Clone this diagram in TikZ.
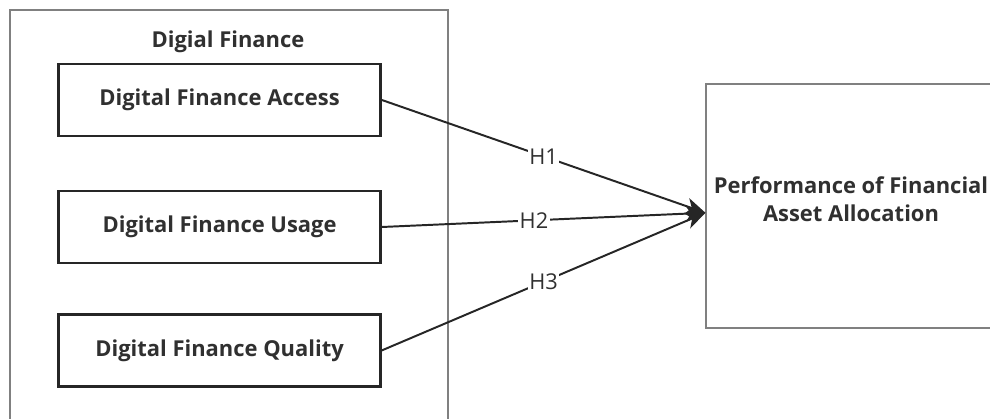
\documentclass[tikz,border=0pt]{standalone}
\usepackage{fontspec}
\setmainfont{Open Sans}
\usetikzlibrary{arrows.meta,calc}
\definecolor{boxline}{HTML}{262626}
\definecolor{frameline}{HTML}{808080}
\definecolor{txt}{HTML}{303030}

\begin{document}
\begin{tikzpicture}[
    frame/.style={draw=frameline, line width=0.8pt},
    varbox/.style={draw=boxline, line width=1.8pt, minimum width=8.05cm, minimum height=1.8cm, align=center, font=\fontsize{15.6}{18}\selectfont\bfseries, text=txt},
    arrow/.style={-{Stealth[length=5mm, width=4.2mm, inset=1.4mm]}, line width=1.4pt, draw=boxline},
    hyp/.style={midway, fill=white, inner sep=1pt, font=\fontsize{15.5}{17}\selectfont, text=txt},
]
\clip (0,0) rectangle (24.75,10.45);

% Digital finance group
\node[frame, minimum width=10.95cm, minimum height=10.9cm] (group) at (5.725, 4.75) {};
\node[font=\fontsize{15.6}{18}\selectfont\bfseries, text=txt] (title) at (5.7, 9.4) {Digial Finance};

\node[varbox] (access) at (5.49, 7.95) {Digital Finance Access};
\node[varbox] (usage) at (5.49, 4.775) {Digital Finance Usage};
\node[varbox] (quality) at (5.49, 1.69) {Digital Finance Quality};

% Outcome
\node[frame, minimum width=7.25cm, minimum height=6.1cm, align=center, font=\fontsize{15.6}{20}\selectfont\bfseries, text=txt, text depth=0.35cm] (perf) at (21.275, 5.3) {Performance of Financial\\Asset Allocation};
\coordinate (target) at ($(perf.west)+(0,-0.17)$);

\draw[arrow] (access.east) -- (target) node[hyp] {H1};
\draw[arrow] (usage.east) -- (target) node[hyp, pos=0.47] {H2};
\draw[arrow] (quality.east) -- (target) node[hyp] {H3};

\end{tikzpicture}
\end{document}
